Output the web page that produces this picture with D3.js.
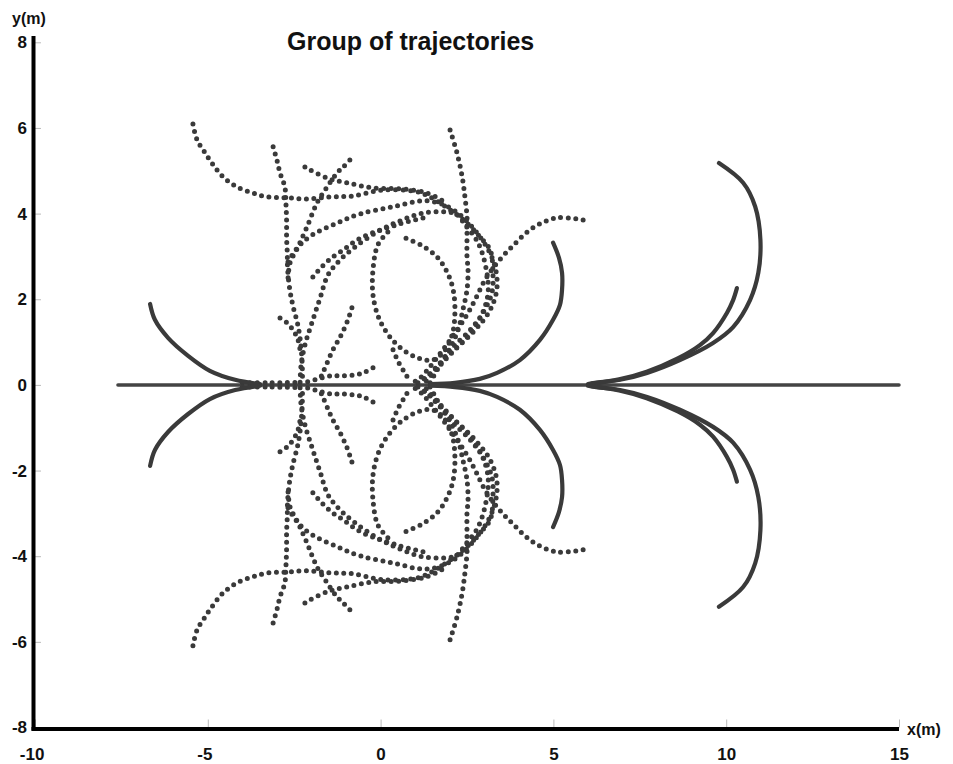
<!DOCTYPE html>
<html>
<head>
<meta charset="utf-8">
<title>Group of trajectories</title>
<style>

body {
  margin: 0;
  background: #fff;
}

text {
  font-family: Arial, "Liberation Sans", sans-serif;
  fill: #111;
}

path.traj {
  fill: none;
  stroke: #3a3a3a;
  stroke-linecap: round;
  stroke-linejoin: round;
}

path.traj.dotted {
  stroke-width: 5px;
  stroke-dasharray: 0 7.5;
}

path.traj.solid {
  stroke-width: 4.2px;
}

.tick line {
  stroke: #bbb;
  stroke-width: 1px;
}

</style>
</head>

<body>
<script src="https://d3js.org/d3.v7.min.js"></script>
<script>

// axis ticks
var xTicks = [-10, -5, 0, 5, 10, 15];
var yTicks = [-8, -6, -4, -2, 0, 2, 4, 6, 8];

// the straight reference path along y = 0
var refLine = [[-7.6, 0], [15, 0]];

// trajectories of the upper half (x, y in metres)
var trajA = [[-6.67, 1.89], [-6.53, 1.52], [-6.15, 1.10], [-5.57, 0.68], [-4.94, 0.33], [-4.21, 0.12], [-3.49, 0.02]];
var trajA2 = [[-4.0, 0.05], [-3.2, 0.05], [-2.4, 0.06]];
var trajB = [[-5.43, 6.09], [-5.31, 5.72], [-5.08, 5.42], [-4.88, 5.18], [-4.56, 4.86], [-4.15, 4.62], [-3.69, 4.48],
             [-3.28, 4.39], [-2.71, 4.37], [-2.13, 4.34], [-1.46, 4.39], [-0.80, 4.41], [0.07, 4.55], [1.05, 4.51],
             [1.43, 4.39], [2.01, 4.09], [2.50, 3.78], [2.87, 3.46], [3.17, 3.15], [3.25, 2.62], [3.22, 2.15],
             [2.96, 1.68], [2.59, 1.28], [2.10, 0.89], [1.72, 0.51], [1.34, 0.19], [1.14, 0.05]];
var trajC = [[-3.11, 5.56], [-3.00, 5.25], [-2.91, 4.95], [-2.77, 4.62], [-2.74, 4.25], [-2.72, 3.83], [-2.72, 3.43],
             [-2.70, 3.08], [-2.69, 2.71], [-2.63, 2.24], [-2.54, 1.86], [-2.40, 1.42], [-2.32, 1.02], [-2.27, 0.51],
             [-2.26, 0.05]];
var trajD = [[-0.89, 5.25], [-1.08, 5.09], [-1.26, 4.95], [-1.55, 4.62], [-1.84, 4.25], [-2.13, 3.69], [-2.39, 3.22],
             [-2.62, 2.85], [-2.68, 2.45]];
var trajE = [[-2.19, 5.09], [-1.55, 4.83], [-0.97, 4.72], [-0.22, 4.60], [0.56, 4.58], [1.34, 4.48], [1.80, 4.30]];
var trajF = [[2.01, 5.95], [2.21, 5.42], [2.36, 4.86], [2.44, 4.39], [2.50, 3.92], [2.50, 3.46], [2.50, 2.99],
             [2.53, 2.69], [2.50, 2.22], [2.38, 1.75], [2.24, 1.28], [2.01, 0.86], [1.72, 0.47], [1.43, 0.05]];
var trajG = [[5.86, 3.85], [5.10, 3.90], [4.41, 3.67], [3.83, 3.25], [3.37, 2.85], [3.02, 2.45], [2.73, 1.98],
             [2.44, 1.56], [2.01, 1.05], [1.58, 0.58], [1.14, 0.16], [0.85, 0.02]];
var trajH = [[4.99, 3.32], [5.16, 2.97], [5.25, 2.62], [5.25, 2.22], [5.19, 1.87], [4.99, 1.52], [4.61, 1.05],
             [4.03, 0.58], [3.37, 0.28], [2.87, 0.14], [2.15, 0.05], [1.43, 0.02]];
var trajI = [[9.79, 5.18], [10.49, 4.72], [10.84, 4.16], [10.99, 3.39], [10.93, 2.62], [10.69, 1.98], [10.20, 1.35],
             [9.62, 0.98], [8.66, 0.58], [7.71, 0.28], [6.93, 0.12], [6.20, 0.05], [6.00, 0.02]];
var trajJ = [[10.31, 2.26], [10.20, 1.98], [10.02, 1.68], [9.62, 1.21], [9.24, 0.93], [8.60, 0.62], [7.70, 0.31],
             [6.90, 0.13], [6.10, 0.03]];
var trajK = [[-0.83, 1.80], [-0.97, 1.47], [-1.17, 1.12], [-1.38, 0.82], [-1.55, 0.51], [-1.70, 0.23], [-1.81, 0.05]];
var trajL = [[-2.91, 1.56], [-2.71, 1.45], [-2.53, 1.28], [-2.39, 1.05], [-2.33, 0.82]];
var trajM = [[1.08, 0.05], [1.49, 0.30], [1.95, 0.68], [2.50, 1.12], [2.91, 1.61], [3.11, 2.15], [3.05, 2.73],
             [2.82, 3.32], [2.44, 3.74], [2.18, 3.99], [1.28, 4.02], [0.56, 3.83], [-0.10, 3.57], [-0.74, 3.22],
             [-1.17, 2.92], [-1.52, 2.57], [-1.75, 2.03], [-1.98, 1.47], [-2.19, 0.93], [-2.30, 0.47], [-2.33, 0.05]];
var trajM2 = [[-1.96, 2.52], [-1.67, 2.78], [-1.38, 2.99], [-1.08, 3.15], [-0.80, 3.32], [-0.45, 3.48], [0.56, 3.76],
              [1.34, 3.92]];
var trajN = [[-2.68, 2.87], [-2.39, 3.22], [-1.98, 3.50], [-1.26, 3.78], [-0.60, 3.99], [0.36, 4.16], [1.34, 4.30],
             [2.10, 4.09], [2.79, 3.55], [3.25, 2.92], [3.37, 2.29], [3.17, 1.75], [2.73, 1.28], [2.15, 0.82],
             [1.66, 0.40], [1.28, 0.05]];
var trajO = [[0.21, 3.57], [-0.08, 3.27], [-0.22, 2.69], [-0.22, 2.10], [-0.05, 1.56], [0.27, 1.12], [0.65, 0.82],
             [1.08, 0.63], [1.49, 0.58], [1.83, 0.77], [2.07, 1.17], [2.15, 1.68], [2.10, 2.22], [1.92, 2.64],
             [1.63, 2.99], [1.20, 3.25], [0.71, 3.43]];
var trajP = [[-0.22, 0.40], [-0.51, 0.28], [-0.80, 0.23], [-1.17, 0.21], [-1.46, 0.21], [-1.90, 0.12], [-2.20, 0.05]];
var trajQ = [[0.36, 0.82], [0.50, 0.56], [0.70, 0.28], [0.85, 0.09]];

var solidTraj = [trajA, trajH, trajI, trajJ];
var dottedTraj = [trajA2, trajB, trajC, trajD, trajE, trajF, trajG, trajK, trajL, trajM, trajM2, trajN, trajO, trajP, trajQ];

// the lower half of the figure is the mirror image of the upper half
function mirror(t) {
  return t.map(function(p) { return [p[0], -p[1]]; });
}

var width = 953,
    height = 764;

var x = d3.scaleLinear().domain([-10, 15]).range([35, 899]);
var y = d3.scaleLinear().domain([-8, 8]).range([727.5, 42.3]);

var svg = d3.select("body").append("svg")
    .attr("width", width)
    .attr("height", height);

svg.append("rect")
    .attr("width", width)
    .attr("height", height)
    .attr("fill", "#fff");

var line = d3.line()
    .x(function(d) { return x(d[0]); })
    .y(function(d) { return y(d[1]); })
    .curve(d3.curveCatmullRom.alpha(0.5));

// plain hyphen as minus, like the original figure
var fmt = function(d) { return String(d); };

// axes: light inner ticks, bold labels
var xAxis = d3.axisBottom(x).tickValues(xTicks).tickFormat(fmt)
    .tickSizeInner(-8).tickSizeOuter(0).tickPadding(20);
var yAxis = d3.axisLeft(y).tickValues(yTicks).tickFormat(fmt)
    .tickSizeInner(-6).tickSizeOuter(0).tickPadding(8);

var gx = svg.append("g")
    .attr("transform", "translate(0," + y(-8) + ")")
    .call(xAxis);
gx.select(".domain").remove();
gx.selectAll("text")
    .attr("dx", function(d) { return d < 0 ? "-0.2em" : 0; });

var gy = svg.append("g")
    .attr("transform", "translate(" + x(-10) + ",0)")
    .call(yAxis);
gy.select(".domain").remove();

svg.selectAll(".tick text")
    .style("font-size", "17px")
    .style("font-weight", "bold")
    .attr("fill", "#111");

// reference path on y = 0
svg.append("path")
    .datum(refLine)
    .attr("d", line)
    .attr("fill", "none")
    .attr("stroke", "#444")
    .attr("stroke-width", 3.5)
    .attr("stroke-linecap", "round");

var all = [];
dottedTraj.forEach(function(t) {
  all.push({pts: t, kind: "dotted"});
  all.push({pts: mirror(t), kind: "dotted"});
});
solidTraj.forEach(function(t) {
  all.push({pts: t, kind: "solid"});
  all.push({pts: mirror(t), kind: "solid"});
});

svg.append("g")
  .selectAll("path")
  .data(all)
  .enter()
  .append("path")
    .attr("class", function(d) { return "traj " + d.kind; })
    .attr("d", function(d) { return line(d.pts); });

// main axis lines
svg.append("line")
    .attr("x1", x(-10) - 1.5).attr("x2", x(-10) - 1.5)
    .attr("y1", y(8.15)).attr("y2", y(-8) + 3)
    .attr("stroke", "#000")
    .attr("stroke-width", 4);

svg.append("line")
    .attr("x1", x(-10) - 3.5).attr("x2", x(15))
    .attr("y1", y(-8) + 1.5).attr("y2", y(-8) + 1.5)
    .attr("stroke", "#000")
    .attr("stroke-width", 4);

svg.append("text")
    .attr("x", 287)
    .attr("y", 50)
    .style("font-size", "25px")
    .style("font-weight", "bold")
    .text("Group of trajectories");

svg.append("text")
    .attr("x", 12)
    .attr("y", 24)
    .style("font-size", "16px")
    .style("font-weight", "bold")
    .text("y(m)");

svg.append("text")
    .attr("x", 907)
    .attr("y", 735)
    .style("font-size", "16px")
    .style("font-weight", "bold")
    .text("x(m)");

</script>
</body>
</html>
